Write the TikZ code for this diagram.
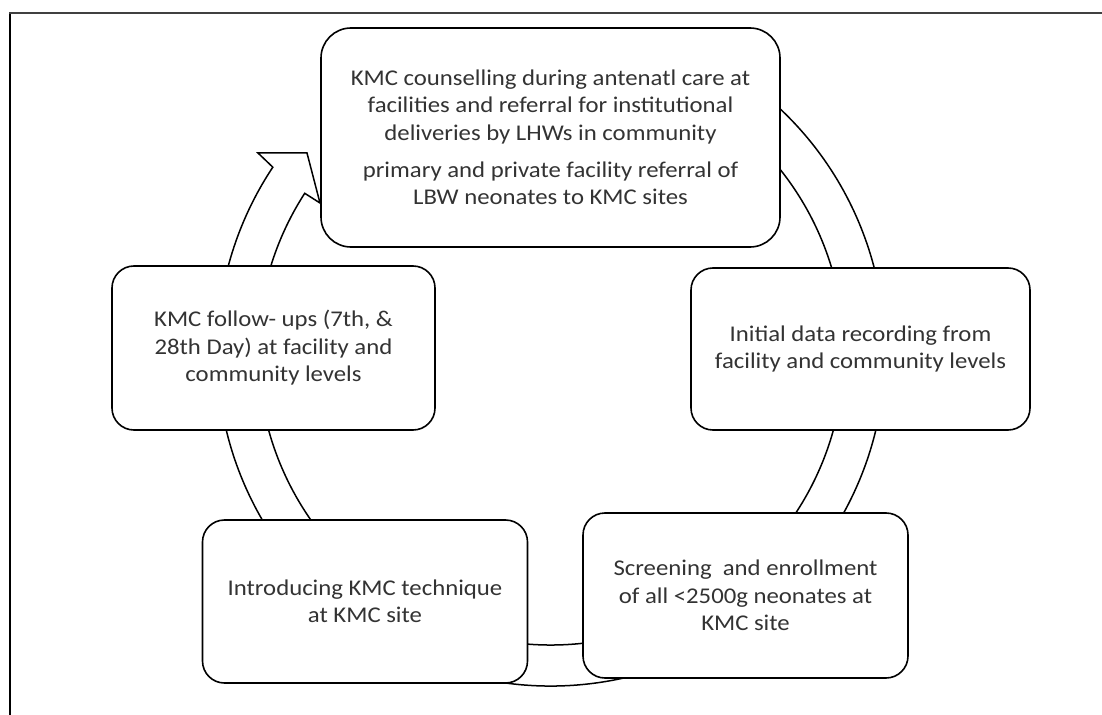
\documentclass[tikz,border=0pt]{standalone}
\usepackage{fontspec}
\setmainfont{Carlito}[FakeStretch=1.1]
\begin{document}
\begin{tikzpicture}[x=1bp,y=1bp,
  ring/.style={draw=black, fill=white, line width=1.5bp, line join=miter},
  stage/.style={draw=black, fill=white, line width=1.6bp, rounded corners=22bp,
    align=center, inner sep=0pt, text=black!80,
    font=\fontsize{22.5bp}{27.5bp}\selectfont},
]
\useasboundingbox (0,0) rectangle (1102,-715);

% frame lines
\draw[line width=2bp, black] (10,-715) -- (10,-12);
\draw[line width=1.6bp, black!75] (9,-13) -- (1102,-13);

% circular arrow running clockwise behind the stages
\coordinate (C) at (551,-352);
\draw[ring] ([shift={(60:334)}]C) arc[start angle=60, end angle=-213.6, radius=334]
  -- (258,-153) -- (307,-153) -- (320,-203) -- ([shift={(-212.8:293)}]C)
  arc[start angle=-212.8, end angle=60, radius=293] -- cycle;

% stages
\node[stage, rounded corners=30bp, minimum width=459bp, minimum height=219bp] (s1) at (550.5,-137.5)
  {KMC counselling during antenatl care at\\
   facilities and referral for institutional\\
   deliveries by LHWs in community\\[9.5bp]
   primary and private facility referral of\\
   LBW neonates to KMC sites};
\node[stage, minimum width=339bp, minimum height=162bp] (s2) at (860.5,-349)
  {Initial data recording from\\ facility and community levels};
\node[stage, minimum width=325bp, minimum height=165bp] (s3) at (745.5,-595.5)
  {Screening\ \ and enrollment\\ of all <2500g neonates at\\ KMC site};
\node[stage, minimum width=325bp, minimum height=163bp] (s4) at (365,-601.5)
  {Introducing KMC technique\\ at KMC site};
\node[stage, minimum width=323bp, minimum height=164bp] (s5) at (273.5,-348)
  {KMC follow- ups (7th, \&\\ 28th Day) at facility and\\ community levels};
\end{tikzpicture}
\end{document}
